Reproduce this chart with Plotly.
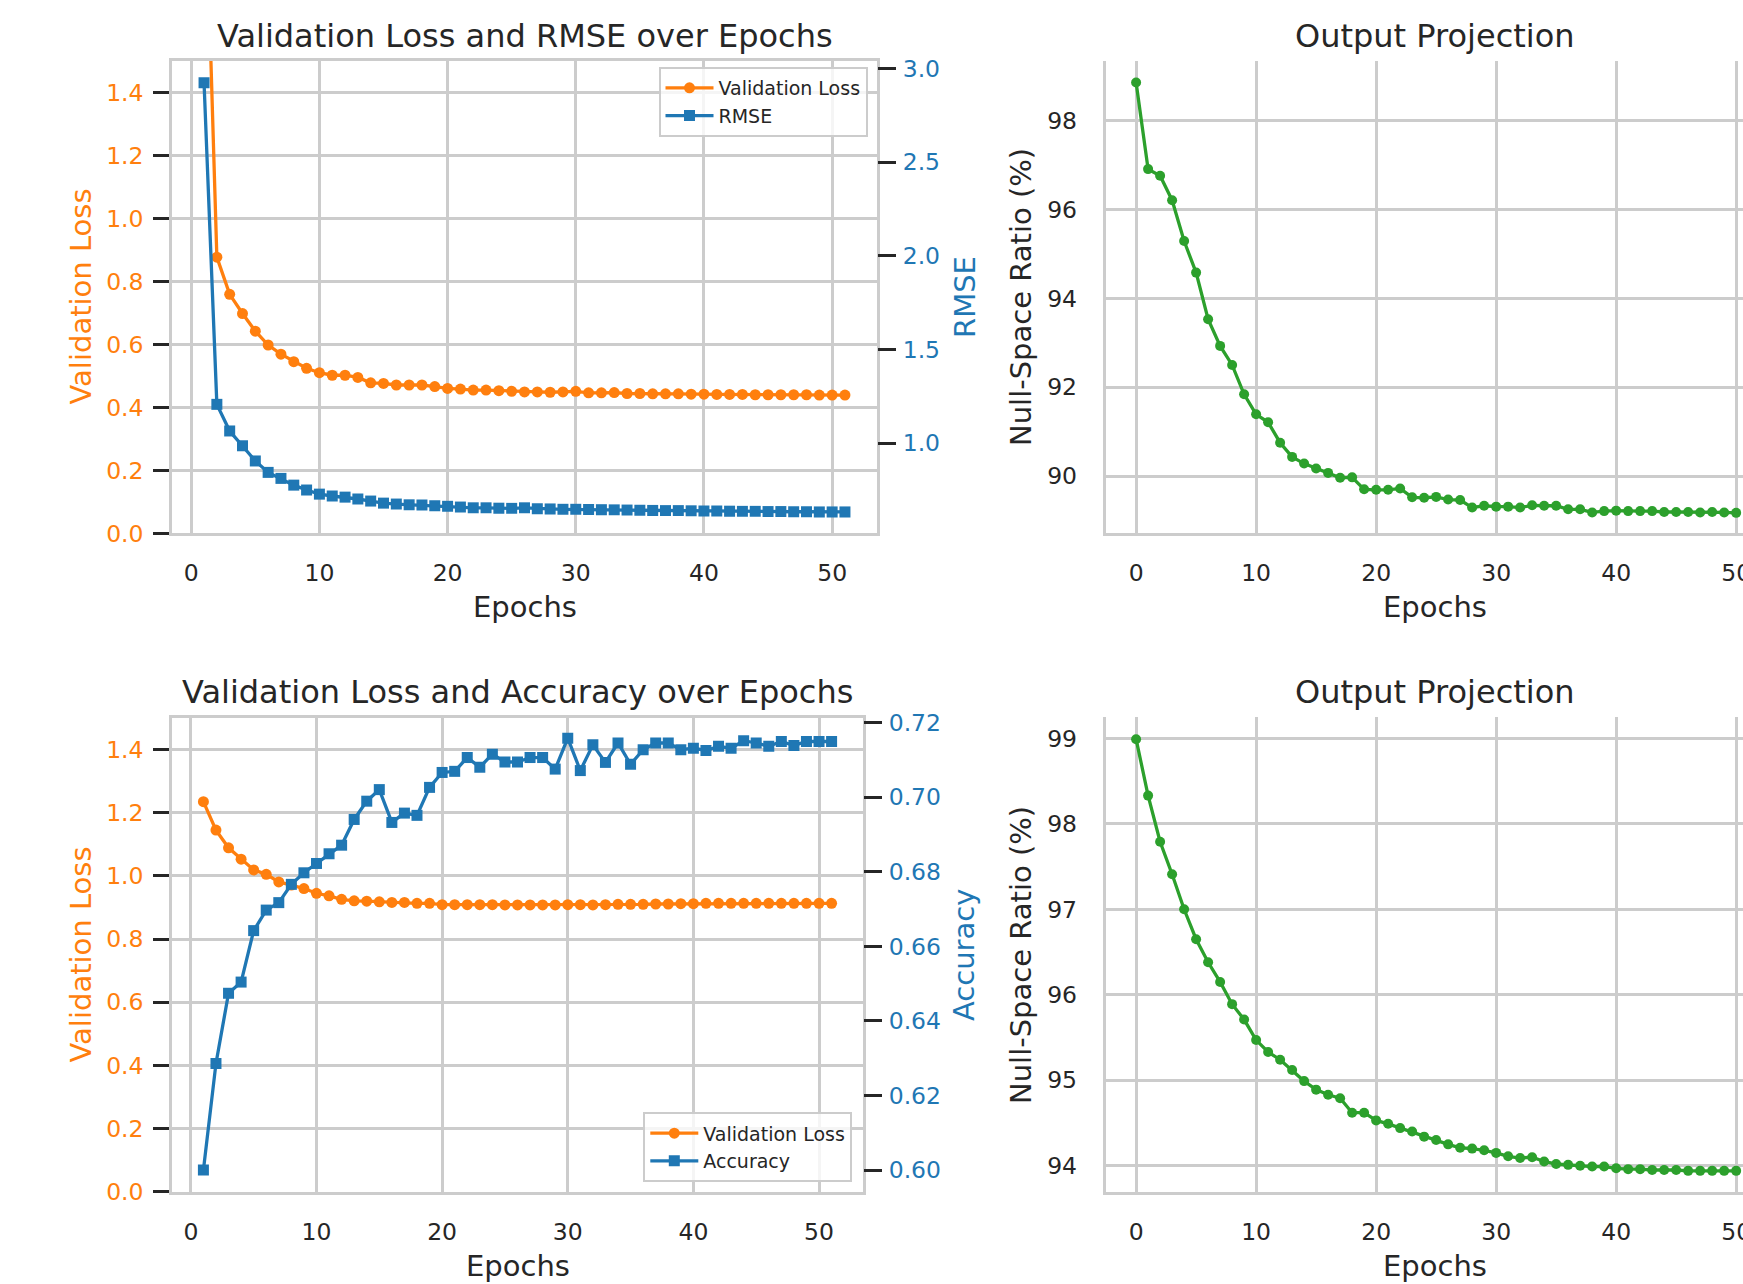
import plotly.graph_objects as go

W, H = 1743, 1284

# ---------------- data ----------------
epochs_left = list(range(1, 52))
epochs_right = list(range(0, 51))

loss_rmse = [2.22, 0.877, 0.759, 0.698, 0.642, 0.598, 0.569, 0.545, 0.524, 0.510,
             0.502, 0.502, 0.495, 0.478, 0.476, 0.471, 0.471, 0.471, 0.466, 0.460,
             0.458, 0.455, 0.455, 0.453, 0.451, 0.449, 0.449, 0.448, 0.449, 0.451,
             0.446, 0.446, 0.447, 0.444, 0.444, 0.443, 0.443, 0.443, 0.442, 0.442,
             0.441, 0.441, 0.441, 0.440, 0.440, 0.440, 0.440, 0.440, 0.439, 0.439, 0.439]

rmse = [2.923, 1.207, 1.065, 0.986, 0.905, 0.844, 0.812, 0.776, 0.750, 0.728,
        0.718, 0.712, 0.702, 0.691, 0.680, 0.675, 0.671, 0.670, 0.666, 0.663,
        0.659, 0.655, 0.655, 0.653, 0.652, 0.655, 0.650, 0.649, 0.647, 0.647,
        0.646, 0.645, 0.644, 0.643, 0.642, 0.641, 0.640, 0.640, 0.639, 0.638,
        0.638, 0.637, 0.636, 0.636, 0.635, 0.635, 0.634, 0.634, 0.633, 0.633, 0.633]

loss_acc = [1.235, 1.145, 1.089, 1.053, 1.019, 1.005, 0.981, 0.971, 0.960, 0.945,
            0.937, 0.926, 0.921, 0.920, 0.918, 0.916, 0.916, 0.913, 0.913, 0.909,
            0.909, 0.909, 0.909, 0.909, 0.908, 0.908, 0.908, 0.908, 0.908, 0.909,
            0.909, 0.908, 0.909, 0.910, 0.910, 0.910, 0.911, 0.911, 0.912, 0.912,
            0.913, 0.913, 0.913, 0.913, 0.913, 0.913, 0.913, 0.913, 0.913, 0.913, 0.913]

accuracy = [0.6000, 0.6286, 0.6474, 0.6504, 0.6642, 0.6697, 0.6717, 0.6766, 0.6797, 0.6822,
            0.6848, 0.6871, 0.6940, 0.6989, 0.7020, 0.6932, 0.6957, 0.6951, 0.7026, 0.7066,
            0.7069, 0.7106, 0.7080, 0.7115, 0.7094, 0.7094, 0.7106, 0.7106, 0.7075, 0.7158,
            0.7071, 0.7140, 0.7093, 0.7145, 0.7088, 0.7127, 0.7145, 0.7145, 0.7127, 0.7131,
            0.7125, 0.7136, 0.7131, 0.7151, 0.7145, 0.7136, 0.7149, 0.7138, 0.7149, 0.7149, 0.7149]

null_top = [98.86, 96.91, 96.76, 96.21, 95.29, 94.58, 93.53, 92.93, 92.50, 91.84,
            91.39, 91.21, 90.75, 90.43, 90.28, 90.17, 90.07, 89.96, 89.97, 89.70,
            89.69, 89.69, 89.72, 89.52, 89.51, 89.53, 89.47, 89.46, 89.29, 89.33,
            89.31, 89.31, 89.29, 89.34, 89.33, 89.33, 89.25, 89.25, 89.18, 89.21,
            89.22, 89.21, 89.21, 89.21, 89.19, 89.19, 89.19, 89.18, 89.19, 89.18, 89.17]

null_bottom = [98.99, 98.33, 97.79, 97.41, 97.00, 96.65, 96.38, 96.15, 95.89, 95.71,
               95.47, 95.33, 95.24, 95.12, 94.99, 94.89, 94.83, 94.79, 94.62, 94.62,
               94.53, 94.49, 94.44, 94.40, 94.34, 94.30, 94.25, 94.21, 94.20, 94.18,
               94.15, 94.11, 94.09, 94.10, 94.05, 94.02, 94.01, 94.00, 93.99, 93.99,
               93.97, 93.96, 93.96, 93.95, 93.95, 93.95, 93.94, 93.94, 93.94, 93.94, 93.94]

x_ticks = [0, 10, 20, 30, 40, 50]
loss_ticks = [0.0, 0.2, 0.4, 0.6, 0.8, 1.0, 1.2, 1.4]
rmse_ticks = [1.0, 1.5, 2.0, 2.5, 3.0]
acc_ticks = [0.60, 0.62, 0.64, 0.66, 0.68, 0.70, 0.72]
null_top_ticks = [90, 92, 94, 96, 98]
null_bottom_ticks = [94, 95, 96, 97, 98, 99]

# ---------------- style ----------------
ORANGE = "#ff7f0e"
BLUE = "#1f77b4"
GREEN = "#2ca02c"
TXT = "#262626"
GRID = "#cccccc"
FONT = "DejaVu Sans"
TICK_FS = 23.5
LABEL_FS = 29
TITLE_FS = 32
LEG_FS = 19
LW = 3.3


def px(p):
    return p / W


def py(p):
    return 1 - p / H


fig = go.Figure()

# top-left
fig.add_trace(go.Scatter(x=epochs_left, y=loss_rmse, name="Validation Loss", mode="lines+markers",
                         line=dict(color=ORANGE, width=LW), marker=dict(symbol="circle", size=11, color=ORANGE),
                         xaxis="x", yaxis="y", legend="legend"))
fig.add_trace(go.Scatter(x=epochs_left, y=rmse, name="RMSE", mode="lines+markers",
                         line=dict(color=BLUE, width=LW), marker=dict(symbol="square", size=11, color=BLUE),
                         xaxis="x", yaxis="y2", legend="legend"))
# top-right
fig.add_trace(go.Scatter(x=epochs_right, y=null_top, mode="lines+markers", showlegend=False,
                         line=dict(color=GREEN, width=LW), marker=dict(symbol="circle", size=10, color=GREEN),
                         xaxis="x2", yaxis="y3"))
# bottom-left
fig.add_trace(go.Scatter(x=epochs_left, y=loss_acc, name="Validation Loss", mode="lines+markers",
                         line=dict(color=ORANGE, width=LW), marker=dict(symbol="circle", size=11, color=ORANGE),
                         xaxis="x3", yaxis="y4", legend="legend2"))
fig.add_trace(go.Scatter(x=epochs_left, y=accuracy, name="Accuracy", mode="lines+markers",
                         line=dict(color=BLUE, width=LW), marker=dict(symbol="square", size=11, color=BLUE),
                         xaxis="x3", yaxis="y5", legend="legend2"))
# bottom-right
fig.add_trace(go.Scatter(x=epochs_right, y=null_bottom, mode="lines+markers", showlegend=False,
                         line=dict(color=GREEN, width=LW), marker=dict(symbol="circle", size=10, color=GREEN),
                         xaxis="x4", yaxis="y6"))

base_x = dict(tickmode="array", tickvals=x_ticks, showgrid=True, gridcolor=GRID, gridwidth=2.5,
              zeroline=False, showline=True, linecolor=GRID, linewidth=2.5, ticks="",
              tickfont=dict(family=FONT, size=TICK_FS, color=TXT), ticklabelstandoff=17,
              automargin=False, ticklabeloverflow="allow")

left_loss_y = dict(tickmode="array", tickvals=loss_ticks, tickformat=".1f", range=[0, 1.5],
                   showgrid=True, gridcolor=GRID, gridwidth=2.5, zeroline=False,
                   showline=True, linecolor=GRID, linewidth=2.5, mirror=True,
                   ticks="outside", ticklen=16, tickwidth=3, tickcolor=TXT,
                   tickfont=dict(family=FONT, size=TICK_FS, color=ORANGE), ticklabelstandoff=5,
                   automargin=False)

right_y = dict(showgrid=False, zeroline=False, showline=False, side="right",
               ticks="outside", ticklen=18, tickwidth=3, tickcolor=TXT,
               tickfont=dict(family=FONT, size=TICK_FS, color=BLUE), ticklabelstandoff=2,
               automargin=False)

null_y = dict(showgrid=True, gridcolor=GRID, gridwidth=2.5, zeroline=False,
              showline=True, linecolor=GRID, linewidth=2.5, ticks="",
              tickfont=dict(family=FONT, size=TICK_FS, color=TXT), ticklabelstandoff=21,
              automargin=False)

fig.update_layout(
    width=W, height=H, margin=dict(l=0, r=0, t=0, b=0, autoexpand=False),
    paper_bgcolor="white", plot_bgcolor="white",
    font=dict(family=FONT, color=TXT),
    xaxis=dict(base_x, domain=[px(172), px(877)], range=[-1.5, 53.5], anchor="y", mirror=True),
    yaxis=dict(left_loss_y, domain=[py(533.3), py(61)], anchor="x"),
    yaxis2=dict(right_y, overlaying="y", anchor="x", range=[0.519, 3.039],
                tickmode="array", tickvals=rmse_ticks, tickformat=".1f"),
    xaxis2=dict(base_x, domain=[px(1105.5), 1], range=[-2.55, 50.57], anchor="y3"),
    yaxis3=dict(null_y, domain=[py(533.3), py(60.7)], anchor="x2", range=[88.71, 99.351],
                tickmode="array", tickvals=null_top_ticks),
    xaxis3=dict(base_x, domain=[px(172), px(863)], range=[-1.5, 53.5], anchor="y4", mirror=True),
    yaxis4=dict(left_loss_y, domain=[py(1191.7), py(718)], anchor="x3"),
    yaxis5=dict(right_y, overlaying="y4", anchor="x3", range=[0.5942, 0.7212],
                tickmode="array", tickvals=acc_ticks, tickformat=".2f"),
    xaxis4=dict(base_x, domain=[px(1105.5), 1], range=[-2.55, 50.57], anchor="y6"),
    yaxis6=dict(null_y, domain=[py(1191.7), py(716.7)], anchor="x4", range=[93.696, 99.253],
                tickmode="array", tickvals=null_bottom_ticks),
    legend=dict(x=px(867.5), y=py(67), xanchor="right", yanchor="top",
                bgcolor="rgba(255,255,255,0.8)", bordercolor=GRID, borderwidth=2,
                font=dict(family=FONT, size=LEG_FS, color=TXT), itemwidth=48, tracegroupgap=0),
    legend2=dict(x=px(852.3), y=py(1182.3), xanchor="right", yanchor="bottom",
                 bgcolor="rgba(255,255,255,0.8)", bordercolor=GRID, borderwidth=2,
                 font=dict(family=FONT, size=LEG_FS, color=TXT), itemwidth=48, tracegroupgap=0),
)


def ann(text, x, y, size, color=TXT, angle=0):
    fig.add_annotation(text=text, x=px(x), y=py(y), xref="paper", yref="paper",
                       xanchor="center", yanchor="middle", showarrow=False, textangle=angle,
                       font=dict(family=FONT, size=size, color=color))


# titles
ann("Validation Loss and RMSE over Epochs", 524.5, 36.5, TITLE_FS)
ann("Output Projection", 1435, 36.5, TITLE_FS)
ann("Validation Loss and Accuracy over Epochs", 517.5, 692, TITLE_FS)
ann("Output Projection", 1435, 692, TITLE_FS)
# x labels
ann("Epochs", 524.5, 607, LABEL_FS)
ann("Epochs", 1435, 607, LABEL_FS)
ann("Epochs", 517.5, 1265.5, LABEL_FS)
ann("Epochs", 1435, 1265.5, LABEL_FS)
# y labels
ann("Validation Loss", 80.5, 297, LABEL_FS, ORANGE, -90)
ann("RMSE", 965, 297, LABEL_FS, BLUE, -90)
ann("Null-Space Ratio (%)", 1021, 297, LABEL_FS, TXT, -90)
ann("Validation Loss", 80.5, 955, LABEL_FS, ORANGE, -90)
ann("Accuracy", 964, 955, LABEL_FS, BLUE, -90)
ann("Null-Space Ratio (%)", 1021, 955, LABEL_FS, TXT, -90)

fig.write_html(
    "out.html",
    config={"displayModeBar": False},
    post_script="document.body.style.margin='0';document.body.style.overflow='hidden';"
                "document.documentElement.style.overflow='hidden';",
)
